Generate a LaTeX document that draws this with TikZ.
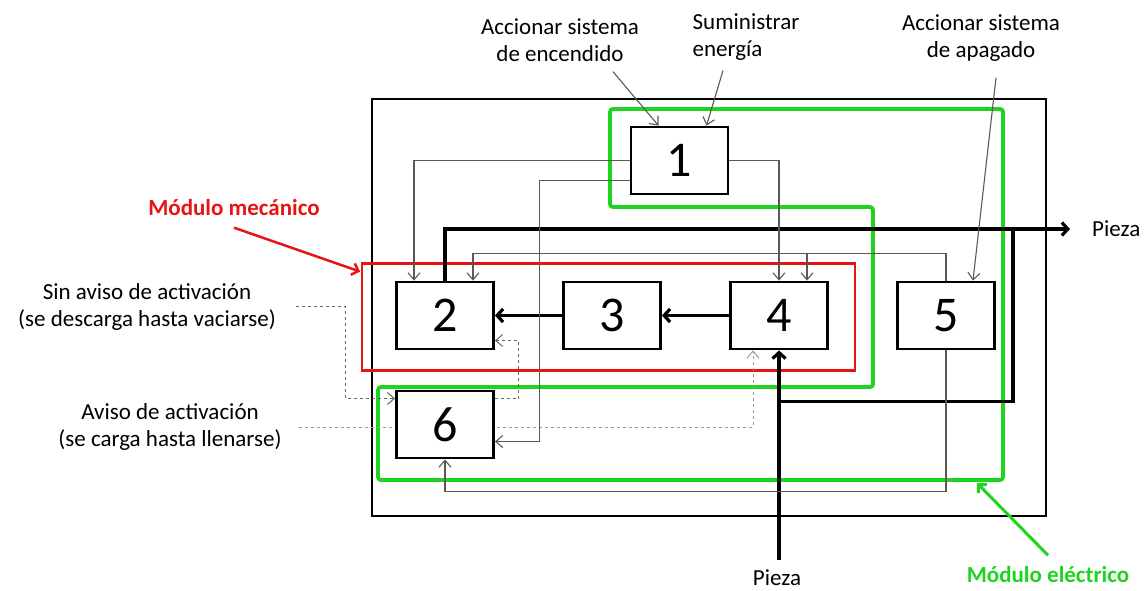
\documentclass[tikz,border=0pt]{standalone}
\usepackage{fontspec}
\setmainfont{Carlito}
\usepackage{xcolor}
\usepackage{tikz}
\usetikzlibrary{positioning,arrows.meta}
\definecolor{modred}{RGB}{232,20,20}
\definecolor{modgreen}{RGB}{30,212,30}
\pgfdeclarelayer{bg}
\pgfsetlayers{bg,main}

\begin{document}
\begin{tikzpicture}[x=1pt, y=1pt,
    blk/.style={draw, line width=2.8pt, fill=white, minimum width=97pt, minimum height=67pt,
                inner sep=0pt, font=\fontsize{50}{55}\selectfont},
    lbl/.style={align=center, font=\fontsize{23}{27}\selectfont, inner sep=2pt},
    modlbl/.style={font=\fontsize{23}{27}\selectfont\bfseries},
    flow/.style={-{Straight Barb[length=6pt,width=13pt]}, line width=3.2pt},
    sig/.style={-{Straight Barb[length=7pt,width=12pt]}, line width=1.1pt, black!65},
    dsh/.style={-{Straight Barb[length=7pt,width=12pt]}, line width=1pt, black!60,
                dash pattern=on 3pt off 3pt},
    node distance=67.2pt
]
\useasboundingbox (0,0) rectangle (1148,-590);

\node[blk] (b2) at (445,-315.5) {2};
\node[blk, right=of b2] (b3) {3};
\node[blk, right=of b3] (b4) {4};
\node[blk, right=of b4] (b5) {5};
\node[blk, above=85.2pt of b3, xshift=67.5pt] (b1) {1};
\node[blk, below=39.2pt of b2] (b6) {6};

\node[lbl] (encendido) at (560,-40) {Accionar sistema\\de encendido};
\node[lbl, align=left] (energia) at (746,-37) {Suministrar\\energía};
\node[lbl] (apagado) at (981,-38) {Accionar sistema\\de apagado};
\node[lbl] (sinaviso) at (147,-306.5) {Sin aviso de activación\\(se descarga hasta vaciarse)};
\node[lbl] (aviso) at (170,-427) {Aviso de activación\\(se carga hasta llenarse)};
\node[lbl] (pin) at (777,-578) {Pieza};
\node[lbl, anchor=west] (pout) at (1090,-229) {Pieza};
\node[modlbl, text=modred] (mecanico) at (234,-208) {Módulo mecánico};
\node[modlbl, text=modgreen] (electrico) at (1048,-575) {Módulo eléctrico};

% frames
\begin{pgfonlayer}{bg}
\draw[line width=2.6pt] (372,-99) rectangle (1046,-516);
\draw[modred, line width=2.3pt] ([xshift=-33pt,yshift=17pt]b2.north west) coordinate (rc)
    rectangle ([xshift=26pt,yshift=-20pt]b4.south east);
\draw[modgreen, line width=3.8pt, rounded corners=3pt] (610,-109) -- (1003,-109) -- (1003,-480)
    -- (378,-480) -- (378,-387) -- (873,-387) -- (873,-207) -- (610,-207) -- cycle;
\coordinate (gc) at (1003,-480);
\draw[dsh, black!40, shorten <=15pt] (aviso.east) -| ([xshift=-26pt]b4.south);
\end{pgfonlayer}

% material flow
\draw[flow] (b4) -- (b3);
\draw[flow] (b3) -- (b2);
\draw[flow] ([yshift=8pt]pin.north -| b4.south) -- (b4.south);
\draw[line width=3.2pt] ([yshift=-51pt]b4.south) -| ([xshift=-77pt]pout.west);
\draw[flow] (b2.north) |- ([xshift=-20pt]pout.west);

% signals
\draw[sig] (b1.west) -| ([xshift=-31pt]b2.north);
\draw[sig] ([yshift=-20pt]b1.west) -| ([xshift=45pt,yshift=-17pt]b6.east) -- ([yshift=-17pt]b6.east);
\draw[sig] (b1.east) -| (b4.north);
\draw[sig] (b5.north) -- ++(0,27) -| ([xshift=28pt]b2.north);
\draw[sig] ([xshift=28pt,yshift=27pt]b4.north) -- ([xshift=28pt]b4.north);
\draw[sig] (b5.south) -- ++(0,-141) -| (b6.south);
\draw[sig] ([xshift=53pt,yshift=-8pt]encendido.south) -- ([xshift=-21pt]b1.north);
\draw[sig] ([xshift=-23pt,yshift=-8pt]energia.south) -- ([xshift=27pt]b1.north);
\draw[sig] ([xshift=15pt,yshift=-14pt]apagado.south) -- ([xshift=27pt]b5.north);

% activation
\draw[dsh, shorten <=18pt] (sinaviso.east) -| ([xshift=-50pt,yshift=26pt]b6.west) -- ([yshift=26pt]b6.west);
\draw[dsh] ([yshift=26pt]b6.east) -| ([xshift=24pt,yshift=-25pt]b2.east) -- ([yshift=-25pt]b2.east);

% modules
\draw[modred, line width=2.5pt, -{Straight Barb[length=6pt,width=12pt]}]
    ([yshift=-8pt]mecanico.south) -- ([xshift=-2pt,yshift=-8pt]rc);
\draw[modgreen, line width=3pt, -{Straight Barb[length=6pt,width=12pt]}]
    ([yshift=8pt]electrico.north) -- ([xshift=-26pt,yshift=-3pt]gc);
\end{tikzpicture}
\end{document}
